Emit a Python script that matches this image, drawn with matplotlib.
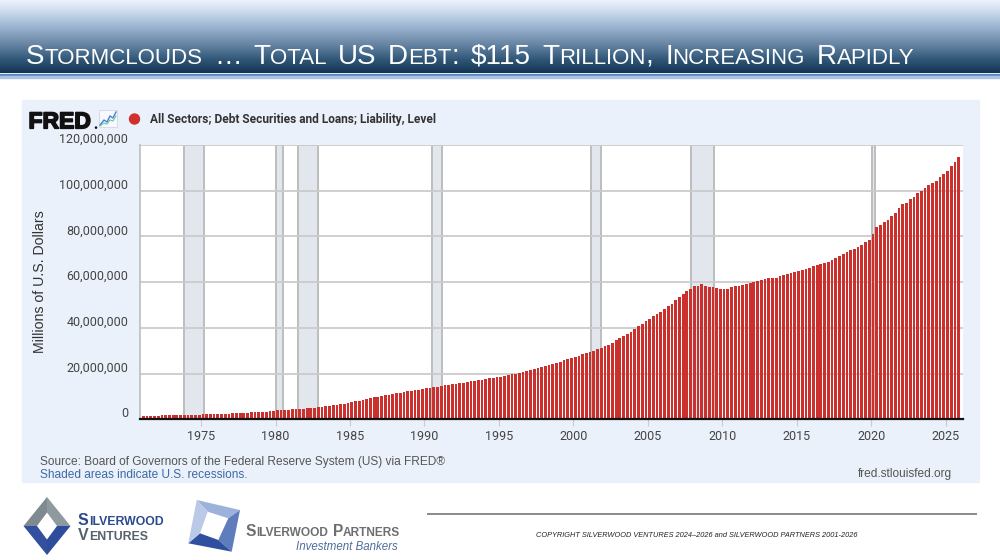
import matplotlib
matplotlib.use("Agg")
import matplotlib.pyplot as plt
import matplotlib.patheffects as pe
import numpy as np
from matplotlib import transforms
from matplotlib.patches import Rectangle, Polygon, Circle

# quarterly debt, trillions of US$, 1971Q1 .. 2025Q4
first_year = 1971
debt_tn = [
    1.45, 1.50, 1.55, 1.60,      # 1971
    1.64, 1.68, 1.72, 1.77,      # 1972
    1.81, 1.85, 1.89, 1.93,      # 1973
    1.97, 2.01, 2.05, 2.08,      # 1974
    2.12, 2.17, 2.22, 2.27,      # 1975
    2.33, 2.39, 2.45, 2.52,      # 1976
    2.59, 2.67, 2.75, 2.84,      # 1977
    2.92, 3.01, 3.10, 3.20,      # 1978
    3.30, 3.40, 3.50, 3.60,      # 1979
    3.90, 4.00, 4.10, 4.22,      # 1980
    4.32, 4.44, 4.56, 4.70,      # 1981
    4.84, 4.98, 5.12, 5.30,      # 1982
    5.50, 5.70, 5.90, 6.10,      # 1983
    6.35, 6.62, 6.90, 7.20,      # 1984
    7.50, 7.85, 8.20, 8.60,      # 1985
    8.90, 9.20, 9.55, 9.90,      # 1986
    10.15, 10.45, 10.75, 11.05,  # 1987
    11.30, 11.60, 11.90, 12.20,  # 1988
    12.45, 12.75, 13.00, 13.30,  # 1989
    13.55, 13.80, 14.05, 14.30,  # 1990
    14.55, 14.80, 15.05, 15.30,  # 1991
    15.55, 15.80, 16.05, 16.32,  # 1992
    16.60, 16.85, 17.10, 17.40,  # 1993
    17.65, 17.90, 18.15, 18.40,  # 1994
    18.65, 18.95, 19.25, 19.60,  # 1995
    19.95, 20.30, 20.65, 21.05,  # 1996
    21.45, 21.85, 22.30, 22.75,  # 1997
    23.25, 23.75, 24.25, 24.75,  # 1998
    25.25, 25.80, 26.30, 26.85,  # 1999
    27.35, 27.85, 28.35, 28.90,  # 2000
    29.45, 30.00, 30.60, 31.20,  # 2001
    31.85, 32.50, 33.20, 34.50,  # 2002
    35.4, 36.3, 37.2, 38.3,      # 2003
    39.6, 40.6, 41.7, 42.9,      # 2004
    43.9, 45.0, 45.9, 47.0,      # 2005
    48.3, 49.4, 50.6, 52.0,      # 2006
    53.5, 54.6, 56.1, 57.2,      # 2007
    58.4, 58.5, 59.0, 58.2,      # 2008
    57.8, 57.8, 57.5, 56.9,      # 2009
    57.1, 57.2, 57.8, 58.3,      # 2010
    58.4, 58.7, 59.0, 59.6,      # 2011
    60.0, 60.3, 61.0, 61.4,      # 2012
    61.9, 61.6, 61.9, 62.5,      # 2013
    63.2, 63.6, 63.9, 64.6,      # 2014
    64.7, 65.4, 65.7, 66.2,      # 2015
    67.0, 67.7, 68.0, 68.4,      # 2016
    69.0, 69.7, 70.6, 71.5,      # 2017
    72.4, 73.1, 73.9, 74.7,      # 2018
    75.5, 76.2, 77.5, 78.4,      # 2019
    81.2, 84.1, 85.0, 86.4,      # 2020
    87.3, 88.9, 90.4, 92.3,      # 2021
    94.0, 94.7, 96.2, 97.4,      # 2022
    98.8, 99.9, 101.0, 102.5,    # 2023
    103.2, 104.2, 106.0, 107.4,  # 2024
    108.8, 111.0, 112.7, 114.9,  # 2025
]

recession_start = [1973.83, 1980.0, 1981.5, 1990.5, 2001.17, 2007.92, 2020.08]
recession_end = [1975.17, 1980.5, 1982.83, 1991.17, 2001.83, 2009.42, 2020.25]

x_ticks = [1975, 1980, 1985, 1990, 1995, 2000, 2005, 2010, 2015, 2020, 2025]
y_ticks = [0, 20000000, 40000000, 60000000, 80000000, 100000000, 120000000]

title = "Stormclouds \u2026 Total US Debt: $115 Trillion, Increasing Rapidly"
series_name = "All Sectors; Debt Securities and Loans; Liability, Level"
y_label = "Millions of U.S. Dollars"
source_text = "Source: Board of Governors of the Federal Reserve System (US) via FRED\u00ae"
shaded_text = "Shaded areas indicate U.S. recessions."
fred_url = "fred.stlouisfed.org"
copyright_text = ("COPYRIGHT SILVERWOOD VENTURES 2024\u20132026 and "
                  "SILVERWOOD PARTNERS 2001-2026")

plt.rcParams['font.family'] = ['Liberation Sans', 'DejaVu Sans']

W, H = 1000, 560
fig = plt.figure(figsize=(W / 100, H / 100), dpi=100)
fig.patch.set_facecolor('white')
renderer = fig.canvas.get_renderer()

# background layer in pixel coordinates
bg = fig.add_axes([0, 0, 1, 1], zorder=0)
bg.axis('off')

# header gradient
stops_y = [0, 12, 28, 45, 60, 73]
stops_c = np.array([[0.94, 0.96, 0.99], [0.80, 0.86, 0.93], [0.60, 0.70, 0.81],
                    [0.40, 0.52, 0.64], [0.19, 0.34, 0.47], [0.07, 0.21, 0.32]])
yy = np.arange(74)
grad = np.stack([np.interp(yy, stops_y, stops_c[:, i]) for i in range(3)], axis=-1)
bg.imshow(grad[:, None, :], extent=[0, W, 73.5, 0], aspect='auto', zorder=1)
bg.add_patch(Rectangle((0, 73.5), W, 2.5, color='#5a88c2', zorder=2))
bg.add_patch(Rectangle((0, 76), W, 2, color='#a9c3e3', zorder=2))
bg.set_xlim(0, W)
bg.set_ylim(H, 0)


def small_caps(ax, x, y, text, big, small, space=None, **kw):
    runs = []
    for ch in text:
        kind = 'sp' if ch == ' ' else ('low' if ch.islower() else 'up')
        c = ch.upper()
        if runs and runs[-1][1] == kind:
            runs[-1][0] += c
        else:
            runs.append([c, kind])
    for s, kind in runs:
        if kind == 'sp' and space is not None:
            x += space * len(s)
            continue
        t = ax.text(x, y, s, fontsize=small if kind == 'low' else big,
                    va='baseline', **kw)
        x += t.get_window_extent(renderer).width
    return x


small_caps(bg, 26, 63.5, title, 20, 16, space=11.5, color='white', zorder=3)

# chart panel
bg.add_patch(Rectangle((22, 100), 957, 382, color='#eaf1fa', zorder=1))

# FRED logo + icon
bg.text(28.5, 128.3, "FRED", fontsize=16.5, fontweight='bold', color='#111111',
        va='baseline', zorder=3,
        path_effects=[pe.withStroke(linewidth=1.2, foreground='#111111')])
bg.add_patch(Circle((96, 127.6), 0.6, color='#111111', zorder=3))
bg.add_patch(Rectangle((99, 110), 18, 17, facecolor='#f7f9fd', edgecolor='#cdd8ea',
                       lw=0.6, zorder=3))
bg.plot([100, 104, 107, 110, 113, 116], [125, 120, 122, 116, 118, 112],
        color='#4a7fd0', lw=1.0, zorder=4)
bg.plot([100, 104, 107, 110, 113, 116], [126, 123, 124, 120, 121, 116],
        color='#6cc4a4', lw=0.8, zorder=4)
bg.add_patch(Circle((134.5, 119), 5, color='#d0312d', zorder=3))
bg.text(150, 119.5, series_name, fontsize=8.6, fontweight='bold', color='#333333',
        family=['Roboto', 'DejaVu Sans'], va='center', zorder=3)

# main chart
ax = fig.add_axes([140 / W, 1 - 419.3 / H, (963.3 - 140) / W, (419.3 - 145) / H],
                  zorder=2)
ax.set_facecolor('white')
dates = first_year + 0.125 + 0.25 * np.arange(len(debt_tn))
debt = np.array(debt_tn) * 1e6  # millions of dollars
for s, e in zip(recession_start, recession_end):
    ax.axvspan(s, e, facecolor='#e2e6ed', edgecolor='#bdbdbd', lw=1.4, zorder=0.3)
ax.bar(dates, debt, width=0.185, color='#cb302c', linewidth=0, zorder=2)
ax.set_xlim(1970.90, 2026.19)
ax.set_ylim(0, 120000000)
ax.set_yticks(y_ticks)
ax.yaxis.grid(True, color='#cbcbcb', lw=1.3, zorder=0.5)
ax.set_axisbelow(True)
ax.tick_params(axis='y', length=0, labelleft=False)
for sp in ['top', 'right']:
    ax.spines[sp].set_visible(False)
ax.spines['left'].set_color('#bdbdbd')
ax.spines['left'].set_linewidth(1.2)
ax.spines['bottom'].set_color('#111111')
ax.spines['bottom'].set_linewidth(1.6)
ax.spines['bottom'].set_zorder(3)
ax.set_xticks(x_ticks)
ax.tick_params(axis='x', length=5, color='#cccccc', pad=3, labelsize=9,
               labelcolor='#444444')
for lab in ax.get_xticklabels():
    lab.set_family(['Roboto', 'DejaVu Sans'])

ytrans = transforms.offset_copy(ax.get_yaxis_transform(), fig=fig, x=-11.7, y=5.5,
                                units='dots')
for v in y_ticks:
    ax.text(0, v, f"{v:,}", transform=ytrans, ha='right', va='center', fontsize=9,
            color='#444444', family=['Roboto', 'DejaVu Sans'], clip_on=False)

bg.text(40, 282, y_label, rotation=90, fontsize=10.2, color='#333333', ha='center',
        va='center', zorder=3)

bg.text(40.5, 461.5, source_text, fontsize=8.6, color='#555555', va='center', zorder=3)
bg.text(40.5, 474.5, shaded_text, fontsize=8.6, color='#3d68a6', va='center', zorder=3)
bg.text(951.5, 474.5, fred_url, fontsize=8.6, color='#555555', ha='right',
        va='center', zorder=3)

# footer
bg.plot([428, 976], [514, 514], color='#8a8a8a', lw=1.4, zorder=3)
bg.text(697, 535.5, copyright_text, fontsize=5.3, style='italic', color='#222222',
        ha='center', va='center', zorder=3)

# Silverwood Ventures logo (diamond frame)
cx, cy, ow, oh, iw, ih = 47, 526, 23.5, 29, 10, 13.5
outer = [(cx - ow, cy), (cx, cy - oh), (cx + ow, cy), (cx, cy + oh)]
inner = [(cx - iw, cy), (cx, cy - ih), (cx + iw, cy), (cx, cy + ih)]
side_cols = ['#7e8a90', '#8f9aa0', '#2f4c9c', '#33509f']
for i in range(4):
    j = (i + 1) % 4
    bg.add_patch(Polygon([outer[i], outer[j], inner[j], inner[i]], closed=True,
                         facecolor=side_cols[i], edgecolor='none', zorder=3))
small_caps(bg, 78, 525, "Silverwood", 11.5, 8.8, color='#2c4a8e', fontweight='bold',
           zorder=3)
small_caps(bg, 78, 540, "Ventures", 11.5, 8.8, color='#56616b', fontweight='bold',
           zorder=3)

# Silverwood Partners logo (tilted square frame)
outer2 = [(196.7, 500), (240, 510), (231.7, 551.7), (188.3, 543.3)]
inner2 = [(207.7, 511.7), (228.3, 518.3), (218.3, 540), (200, 533.3)]
side_cols2 = ['#9db2da', '#5f7cbd', '#2e509e', '#b9c9e7']
for i in range(4):
    j = (i + 1) % 4
    bg.add_patch(Polygon([outer2[i], outer2[j], inner2[j], inner2[i]], closed=True,
                         facecolor=side_cols2[i], edgecolor='none', zorder=3))
small_caps(bg, 246, 536.5, "Silverwood Partners", 11.2, 8.6, color='#6d6e71',
           fontweight='bold', zorder=3)
bg.text(398, 550, "Investment Bankers", fontsize=8.3, style='italic', color='#4d6d9c',
        ha='right', va='baseline', zorder=3)

fig.savefig('out.png', dpi=100)
